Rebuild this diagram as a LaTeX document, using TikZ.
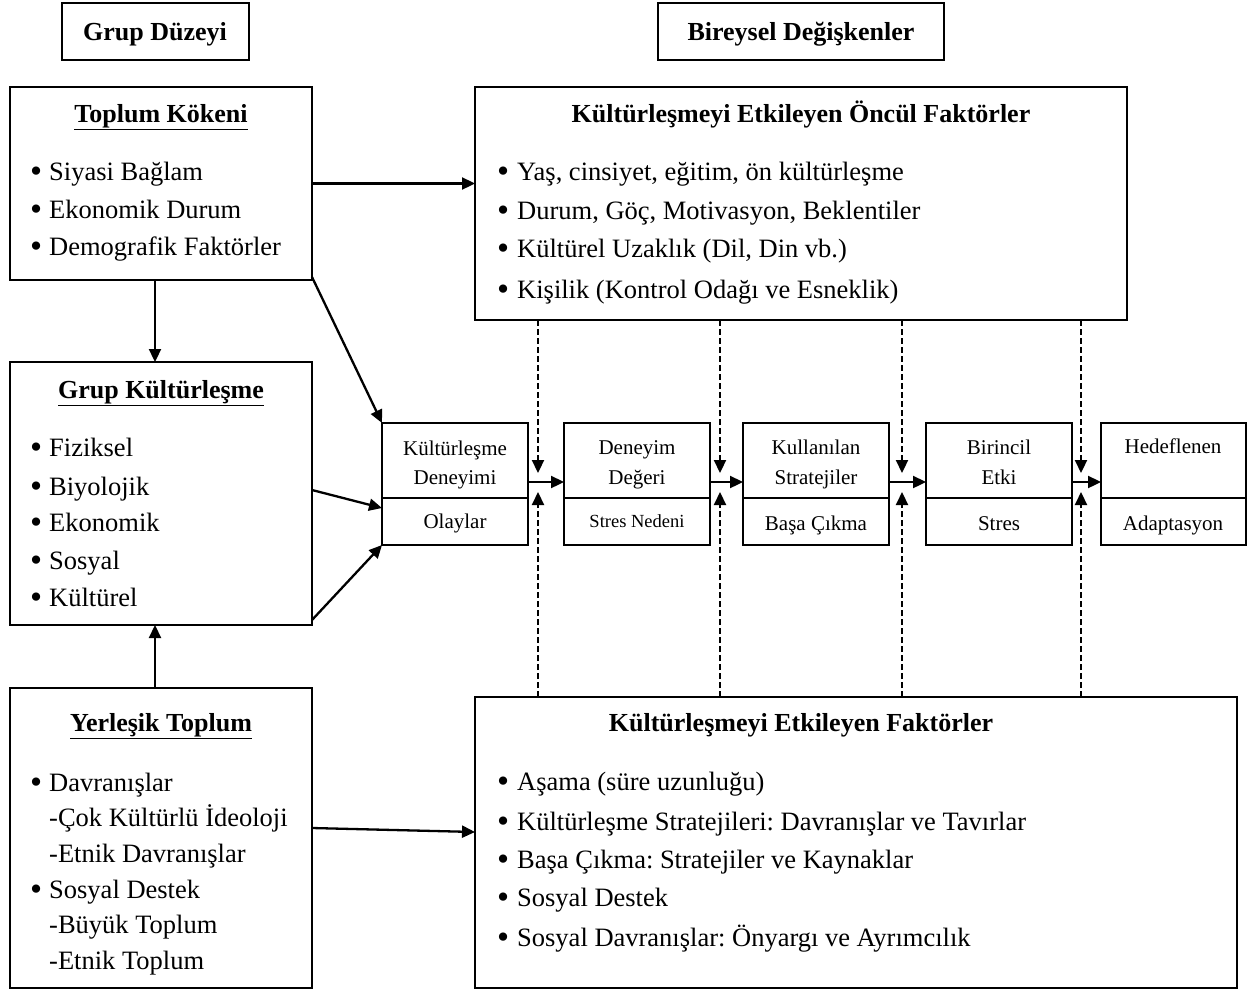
\documentclass[tikz,border=0pt]{standalone}
\usepackage{fontspec}
\setmainfont{Liberation Serif}
\usetikzlibrary{arrows.meta,calc}
\frenchspacing
\newcommand\lbul{\makebox[19pt][l]{\raisebox{-2.3pt}{\scalebox{1.3}{\textbullet}}}}
\newcommand\rbul{\makebox[20pt][l]{\raisebox{-2.3pt}{\scalebox{1.3}{\textbullet}}}}
\begin{document}
\begin{tikzpicture}[x=1pt,y=-1pt,
  box/.style={draw,line width=1.5pt,inner sep=0pt,outer sep=0pt,anchor=north west},
  txt/.style={font=\fontsize{26.5}{30}\selectfont,inner sep=0pt,anchor=base west},
  ttl/.style={font=\bfseries\fontsize{26}{30}\selectfont,inner sep=0pt,anchor=base},
  mtx/.style={font=\fontsize{21}{25}\selectfont,inner sep=0pt,anchor=base},
  stx/.style={font=\fontsize{18.5}{22}\selectfont,inner sep=0pt,anchor=base},
  arr/.style={line width=2.3pt,-{Triangle[length=13pt,width=12pt]}},
  darr/.style={line width=2.2pt,dash pattern=on 6pt off 3pt,-{Triangle[length=13pt,width=12pt]}}]
\useasboundingbox (0,0) rectangle (1253,991);
% header boxes
\node[box,minimum width=187pt,minimum height=57pt] (h1) at (62,3) {};
\draw[line width=2.8pt] (h1.south west) -- (h1.south east) -- (h1.north east);
\node[ttl] at (155,40) {Grup Düzeyi};
\node[box,minimum width=286pt,minimum height=57pt] (h2) at (658,3) {};
\draw[line width=2.8pt] (h2.south west) -- (h2.south east) -- (h2.north east);
\node[ttl] at (801,40) {Bireysel Değişkenler};
% Toplum Kökeni
\node[box,minimum width=302pt,minimum height=193pt] (tk) at (10,87) {};
\node[ttl] at (161,122) {\underline{Toplum Kökeni}};
\node[txt] at (30,180) {\lbul Siyasi Bağlam};
\node[txt] at (30,218) {\lbul Ekonomik Durum};
\node[txt] at (30,255) {\lbul Demografik Faktörler};
% Oncul
\node[box,minimum width=652pt,minimum height=233pt] (on) at (475,87) {};
\node[ttl] at (801,122) {Kültürleşmeyi Etkileyen Öncül Faktörler};
\node[txt] at (497,180) {\rbul Yaş, cinsiyet, eğitim, ön kültürleşme};
\node[txt] at (497,219) {\rbul Durum, Göç, Motivasyon, Beklentiler};
\node[txt] at (497,257) {\rbul Kültürel Uzaklık (Dil, Din vb.)};
\node[txt] at (497,298) {\rbul Kişilik (Kontrol Odağı ve Esneklik)};
% Grup Kulturlesme
\node[box,minimum width=302pt,minimum height=263pt] (gk) at (10,362) {};
\node[ttl] at (161,398) {\underline{Grup Kültürleşme}};
\node[txt] at (30,456) {\lbul Fiziksel};
\node[txt] at (30,495) {\lbul Biyolojik};
\node[txt] at (30,531) {\lbul Ekonomik};
\node[txt] at (30,569) {\lbul Sosyal};
\node[txt] at (30,606) {\lbul Kültürel};
% Yerlesik Toplum
\node[box,minimum width=302pt,minimum height=300pt] (yt) at (10,688) {};
\node[ttl] at (161,731) {\underline{Yerleşik Toplum}};
\node[txt] at (30,791) {\lbul Davranışlar};
\node[txt] at (49,826) {-Çok Kültürlü İdeoloji};
\node[txt] at (49,862) {-Etnik Davranışlar};
\node[txt] at (30,898) {\lbul Sosyal Destek};
\node[txt] at (49,933) {-Büyük Toplum};
\node[txt] at (49,969) {-Etnik Toplum};
% Faktorler
\node[box,minimum width=762pt,minimum height=291pt] (fk) at (475,697) {};
\node[ttl] at (801,731) {Kültürleşmeyi Etkileyen Faktörler};
\node[txt] at (497,790) {\rbul Aşama (süre uzunluğu)};
\node[txt] at (497,830) {\rbul Kültürleşme Stratejileri: Davranışlar ve Tavırlar};
\node[txt] at (497,868) {\rbul Başa Çıkma: Stratejiler ve Kaynaklar};
\node[txt] at (497,906) {\rbul Sosyal Destek};
\node[txt] at (497,946) {\rbul Sosyal Davranışlar: Önyargı ve Ayrımcılık};
% middle boxes
\node[box,minimum width=146pt,minimum height=75pt] (m1a) at (382,423) {};
\node[box,minimum width=146pt,minimum height=47pt] (m1b) at (382,498) {};
\node[mtx] at (455,455) {Kültürleşme};
\node[mtx] at (455,484) {Deneyimi};
\node[mtx] at (455,528) {Olaylar};
\node[box,minimum width=146pt,minimum height=75pt] (m2a) at (564,423) {};
\node[box,minimum width=146pt,minimum height=47pt] (m2b) at (564,498) {};
\node[mtx] at (637,454) {Deneyim};
\node[mtx] at (637,484) {Değeri};
\node[stx] at (637,527) {Stres Nedeni};
\node[box,minimum width=146pt,minimum height=75pt] (m3a) at (743,423) {};
\node[box,minimum width=146pt,minimum height=47pt] (m3b) at (743,498) {};
\node[mtx] at (816,454) {Kullanılan};
\node[mtx] at (816,484) {Stratejiler};
\node[mtx] at (816,530) {Başa Çıkma};
\node[box,minimum width=146pt,minimum height=75pt] (m4a) at (926,423) {};
\node[box,minimum width=146pt,minimum height=47pt] (m4b) at (926,498) {};
\node[mtx] at (999,454) {Birincil};
\node[mtx] at (999,484) {Etki};
\node[mtx] at (999,530) {Stres};
\node[box,minimum width=145pt,minimum height=75pt] (m5a) at (1101,423) {};
\node[box,minimum width=145pt,minimum height=47pt] (m5b) at (1101,498) {};
\node[mtx] at (1173,453) {Hedeflenen};
\node[mtx] at (1173,530) {Adaptasyon};
% horizontal arrows between middle boxes
\foreach \a/\b in {m1a/m2a,m2a/m3a,m3a/m4a,m4a/m5a}
  \draw[arr] ($(\a.south east)+(0,-16)$) -- ($(\b.south west)+(0,-16)$);
% dashed arrows
\coordinate (x1) at (538,482);
\coordinate (x2) at (720,482);
\coordinate (x3) at (902,482);
\coordinate (x4) at (1081,482);
\foreach \c in {x1,x2,x3,x4}{
  \draw[darr] (on.south -| \c) -- ([yshift=9pt]\c);
  \draw[darr] (fk.north -| \c) -- ([yshift=-10pt]\c);
}
% left arrows
\draw[arr] (tk.east) -- (tk.east -| on.west);
\draw[arr] ($(tk.south east)+(0,-3)$) -- (m1a.north west);
\draw[arr] (tk.south -| 155,0) -- (gk.north -| 155,0);
\draw[arr] (gk.east |- 0,490) -- ($(m1a.south west)+(0,10)$);
\draw[arr] ($(gk.south east)+(0,-5)$) -- (m1b.south west);
\draw[arr] (yt.north -| 155,0) -- (gk.south -| 155,0);
\draw[arr] (yt.east |- 0,828) -- (fk.west |- 0,832);
\end{tikzpicture}
\end{document}
